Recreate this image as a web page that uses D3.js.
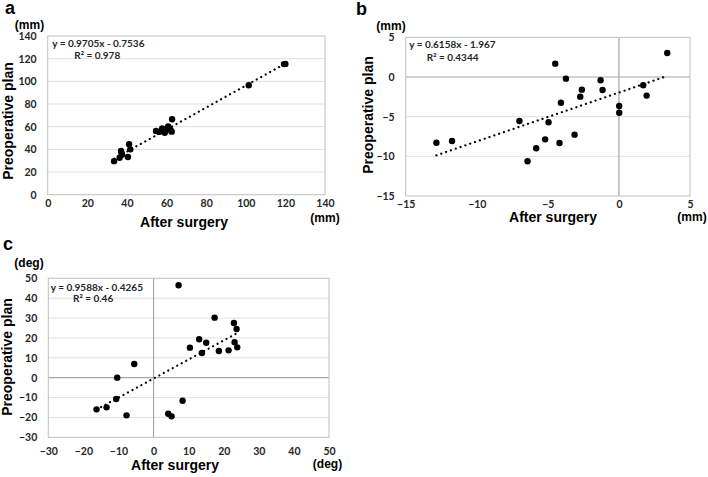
<!DOCTYPE html>
<html>
<head>
<meta charset="utf-8">
<script src="https://cdn.jsdelivr.net/npm/d3@7"></script>
<style>
  body { margin: 0; background: #fff; }
  svg text { font-family: "Liberation Sans", Arial, sans-serif; }
  .tick text { font-family: Lato, "Liberation Sans", sans-serif; font-weight: bold; font-size: 10.5px; fill: #262626; }
  .eq { font-family: Lato, "Liberation Sans", sans-serif; font-weight: bold; font-size: 10px; fill: #262626; }
  .title { font-weight: bold; fill: #000; }
</style>
</head>
<body>
<div id="container"></div>
<script>
// panel a : length (mm)
var aX = [33.5, 36.3, 37.0, 37.5, 37.3, 40.5, 41.1, 41.7, 54.7, 56.2, 57.8, 59.1, 59.6, 60.8, 61.5, 62.1, 62.6, 62.8, 101.5, 119.3, 120.0]
var aY = [29.6, 32.6, 38.6, 35.2, 36.8, 33.3, 44.6, 40.0, 56.3, 55.4, 58.5, 54.7, 57.2, 60.2, 58.2, 57.0, 55.6, 66.6, 96.5, 115.2, 115.4]
var aTicks = [0, 20, 40, 60, 80, 100, 120, 140]
var aFit = [0.9705, -0.7536]
var aText = ['y = 0.9705x - 0.7536', 'R² = 0.978']

// panel b : difference (mm)
var bX = [-12.84, -11.74, -7.0, -6.43, -5.82, -5.19, -4.95, -4.48, -4.18, -4.08, -3.73, -3.12, -2.72, -2.61, -1.29, -1.15, 0.02, 0.02, 1.71, 1.95, 3.4]
var bY = [-8.28, -8.07, -5.55, -10.63, -8.99, -7.86, -5.71, 1.68, -8.32, -3.24, -0.21, -7.27, -2.48, -1.6, -0.42, -1.64, -3.66, -4.5, -1.05, -2.35, 3.03]
var bTicks = [-15, -10, -5, 0, 5]
var bFit = [0.6158, -1.967]
var bText = ['y = 0.6158x - 1.967', 'R² = 0.4344']

// panel c : angle (deg)
var cX = [-16.25, -13.4, -10.64, -10.36, -7.7, -5.51, 4.18, 5.13, 7.13, 8.27, 10.36, 13.0, 13.78, 15.0, 17.39, 18.62, 21.38, 22.9, 23.1, 23.66, 23.85]
var cY = [-15.94, -14.93, -10.74, 0, -18.96, 6.88, -18.12, -19.46, 46.48, -11.58, 15.1, 19.3, 12.42, 17.6, 30.2, 13.42, 13.76, 27.5, 17.8, 24.5, 15.27]
var cTicks = [-30, -20, -10, 0, 10, 20, 30, 40, 50]
var cFit = [0.9588, -0.4265]
var cText = ['y = 0.9588x - 0.4265', 'R² = 0.46']

var svg = d3.select('#container')
  .append('svg')
  .attr('width', 708)
  .attr('height', 477)

function drawPanel(p) {
  var g = svg.append('g').attr('transform', 'translate(' + p.left + ',' + p.top + ')')
  var w = p.width, h = p.height

  var x = d3.scaleLinear().domain(d3.extent(p.ticks)).range([0, w])
  var y = d3.scaleLinear().domain(d3.extent(p.ticks)).range([h, 0])

  // grid lines
  g.append('g').selectAll('line')
    .data(p.ticks.slice(1, -1))
    .enter().append('line')
    .attr('x1', 0).attr('x2', w)
    .attr('y1', d => y(d)).attr('y2', d => y(d))
    .attr('stroke', d => d === 0 ? '#a6a6a6' : '#e0e0e0')
    .attr('stroke-width', d => d === 0 ? 1.2 : 1)

  // vertical zero line
  if (x.domain()[0] < 0) {
    g.append('line')
      .attr('x1', x(0)).attr('x2', x(0))
      .attr('y1', 0).attr('y2', h)
      .attr('stroke', '#a6a6a6')
      .attr('stroke-width', 1.2)
  }

  g.append('rect')
    .attr('width', w).attr('height', h)
    .attr('fill', 'none')
    .attr('stroke', '#bfbfbf')

  // axes (labels only)
  g.append('g')
    .attr('transform', 'translate(0,' + h + ')')
    .call(d3.axisBottom(x).tickValues(p.ticks).tickSize(0).tickPadding(p.xPad))
    .call(a => a.select('.domain').remove())
  g.append('g')
    .call(d3.axisLeft(y).tickValues(p.ticks).tickSize(0).tickPadding(11))
    .call(a => a.select('.domain').remove())

  // trend line
  var x0 = d3.min(p.xs), x1 = d3.max(p.xs)
  g.append('path')
    .datum([x0, x1])
    .attr('d', d3.line().x(d => x(d)).y(d => y(p.fit[0] * d + p.fit[1])))
    .attr('fill', 'none')
    .attr('stroke', '#000')
    .attr('stroke-width', 2.2)
    .attr('stroke-linecap', 'round')
    .attr('stroke-dasharray', '0.1 5')

  // points
  g.append('g').selectAll('circle')
    .data(p.xs)
    .enter().append('circle')
    .attr('cx', d => x(d))
    .attr('cy', (d, i) => y(p.ys[i]))
    .attr('r', 3.2)
    .attr('fill', '#000')

  // equation
  g.append('text').attr('class', 'eq').attr('x', p.eq[0]).attr('y', p.eq[1]).text(p.text[0])
  g.append('text').attr('class', 'eq').attr('x', p.eq[2]).attr('y', p.eq[3]).text(p.text[1])

  // titles (positions relative to svg)
  svg.append('text').attr('class', 'title').attr('x', p.letter[0]).attr('y', p.letter[1])
    .style('font-size', '18px').text(p.name)
  svg.append('text').attr('class', 'title').attr('x', p.unitY[0]).attr('y', p.unitY[1])
    .attr('text-anchor', 'middle').style('font-size', '12px').text(p.unit)
  svg.append('text').attr('class', 'title').attr('x', p.unitX[0]).attr('y', p.unitX[1])
    .attr('text-anchor', 'middle').style('font-size', '12px').text(p.unit)
  svg.append('text').attr('class', 'title')
    .attr('transform', 'translate(' + p.yLab[0] + ',' + p.yLab[1] + ') rotate(-90)')
    .attr('text-anchor', 'middle').attr('dy', '0.35em')
    .style('font-size', '14px').text('Preoperative plan')
  svg.append('text').attr('class', 'title').attr('x', p.xLab[0]).attr('y', p.xLab[1])
    .attr('text-anchor', 'middle').style('font-size', '14px').text('After surgery')
}

drawPanel({ name: 'a', unit: '(mm)', left: 47.7, top: 36, width: 277.3, height: 158.7,
  ticks: aTicks, xs: aX, ys: aY, fit: aFit, text: aText, xPad: 5,
  eq: [4.5, 11, 26.5, 23], letter: [5, 14], unitY: [29.5, 28.5], unitX: [325, 222],
  yLab: [8, 121], xLab: [184, 227] })

drawPanel({ name: 'b', unit: '(mm)', left: 405.7, top: 37.3, width: 284.3, height: 158.7,
  ticks: bTicks, xs: bX, ys: bY, fit: bFit, text: bText, xPad: 5,
  eq: [3.5, 11, 21, 23.5], letter: [356, 15], unitY: [391, 29.5], unitX: [692, 221],
  yLab: [368.5, 115], xLab: [553, 222] })

drawPanel({ name: 'c', unit: '(deg)', left: 48.3, top: 278.3, width: 280.7, height: 159,
  ticks: cTicks, xs: cX, ys: cY, fit: cFit, text: cText, xPad: 10.5,
  eq: [2.4, 12.7, 24.7, 23.7], letter: [3, 250], unitY: [29, 266.5], unitX: [327.5, 467.5],
  yLab: [7.5, 357], xLab: [175, 470] })
</script>
</body>
</html>
